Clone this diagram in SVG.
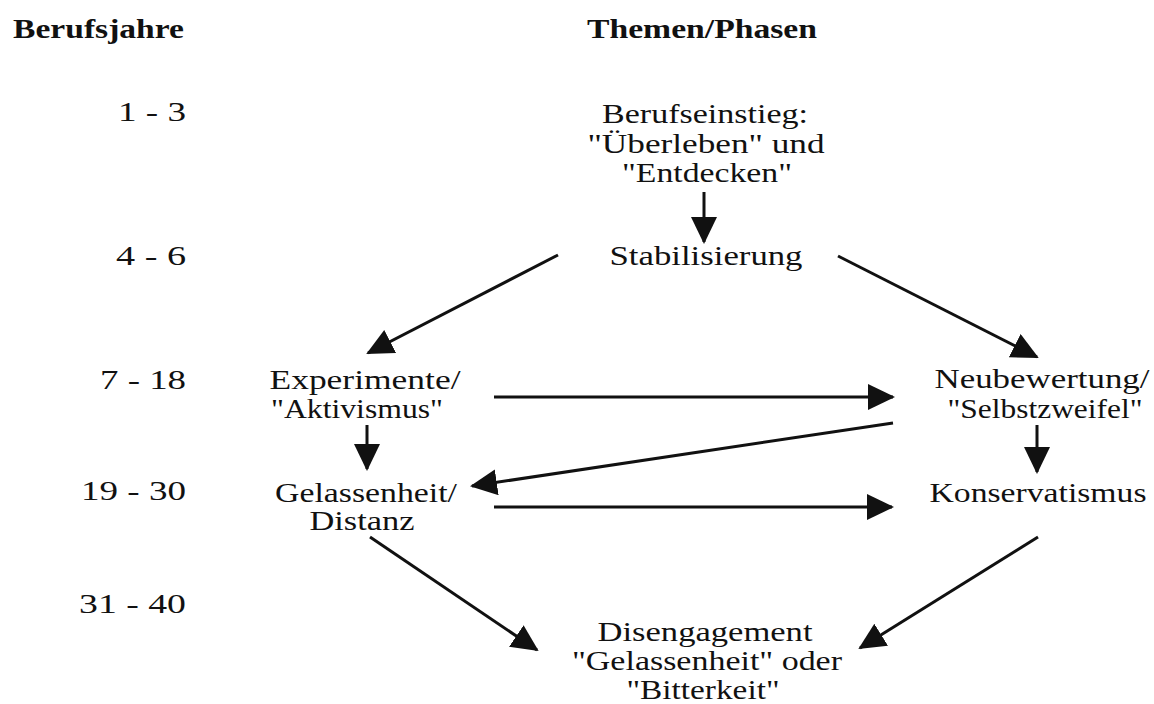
<svg xmlns="http://www.w3.org/2000/svg" width="1154" height="704" viewBox="0 0 1154 704">
  <style>
    text { font-family: "Liberation Serif", "Times New Roman", serif; font-size: 27px; fill: #111; }
    .head { font-weight: bold; font-size: 28px; }
    .years text { text-anchor: end; }
    .node text { text-anchor: middle; }
    .conn line { stroke: #111; stroke-width: 3; marker-end: url(#arrow); }
  </style>
  <defs>
    <marker id="arrow" markerUnits="userSpaceOnUse" markerWidth="28" markerHeight="28" viewBox="0 0 28 28" refX="25" refY="13" orient="auto">
      <path d="M0,0 L27,13 L0,26 z" fill="#111"/>
    </marker>
  </defs>
  <rect width="1154" height="704" fill="#fff"/>

  <!-- column headings -->
  <text class="head" x="13" y="38" textLength="171" lengthAdjust="spacingAndGlyphs">Berufsjahre</text>
  <text class="head" x="587" y="38" textLength="230" lengthAdjust="spacingAndGlyphs">Themen/Phasen</text>

  <!-- years in profession -->
  <g class="years">
    <text x="186" y="121" textLength="68" lengthAdjust="spacingAndGlyphs">1 - 3</text>
    <text x="186" y="265" textLength="70" lengthAdjust="spacingAndGlyphs">4 - 6</text>
    <text x="186" y="389" textLength="86" lengthAdjust="spacingAndGlyphs">7 - 18</text>
    <text x="186" y="500" textLength="105" lengthAdjust="spacingAndGlyphs">19 - 30</text>
    <text x="186" y="613" textLength="107" lengthAdjust="spacingAndGlyphs">31 - 40</text>
  </g>

  <!-- phases -->
  <g id="einstieg" class="node">
    <text x="705" y="123" textLength="206" lengthAdjust="spacingAndGlyphs">Berufseinstieg:</text>
    <text x="706" y="153" textLength="237" lengthAdjust="spacingAndGlyphs">"Überleben" und</text>
    <text x="707" y="182" textLength="170" lengthAdjust="spacingAndGlyphs">"Entdecken"</text>
  </g>
  <g id="stabilisierung" class="node">
    <text x="706" y="265" textLength="193" lengthAdjust="spacingAndGlyphs">Stabilisierung</text>
  </g>
  <g id="experimente" class="node">
    <text x="365" y="389" textLength="191" lengthAdjust="spacingAndGlyphs">Experimente/</text>
    <text x="357" y="418" textLength="172" lengthAdjust="spacingAndGlyphs">"Aktivismus"</text>
  </g>
  <g id="neubewertung" class="node">
    <text x="1042" y="388" textLength="215" lengthAdjust="spacingAndGlyphs">Neubewertung/</text>
    <text x="1045" y="418" textLength="195" lengthAdjust="spacingAndGlyphs">"Selbstzweifel"</text>
  </g>
  <g id="gelassenheit" class="node">
    <text x="366" y="502" textLength="182" lengthAdjust="spacingAndGlyphs">Gelassenheit/</text>
    <text x="362" y="530" textLength="105" lengthAdjust="spacingAndGlyphs">Distanz</text>
  </g>
  <g id="konservatismus" class="node">
    <text x="1038" y="502" textLength="217" lengthAdjust="spacingAndGlyphs">Konservatismus</text>
  </g>
  <g id="disengagement" class="node">
    <text x="705" y="641" textLength="215" lengthAdjust="spacingAndGlyphs">Disengagement</text>
    <text x="707" y="670" textLength="270" lengthAdjust="spacingAndGlyphs">"Gelassenheit" oder</text>
    <text x="703" y="699" textLength="153" lengthAdjust="spacingAndGlyphs">"Bitterkeit"</text>
  </g>

  <!-- connectors -->
  <g class="conn">
    <line x1="704" y1="192" x2="704" y2="242"/>
    <line x1="558" y1="255" x2="368" y2="353"/>
    <line x1="838" y1="256" x2="1037" y2="357"/>
    <line x1="494" y1="397" x2="893" y2="397"/>
    <line x1="367" y1="425" x2="367" y2="469"/>
    <line x1="1037" y1="425" x2="1037" y2="472"/>
    <line x1="893" y1="423" x2="472" y2="486"/>
    <line x1="494" y1="507" x2="892" y2="507"/>
    <line x1="370" y1="537" x2="537" y2="650"/>
    <line x1="1038" y1="537" x2="860" y2="648"/>
  </g>
</svg>
